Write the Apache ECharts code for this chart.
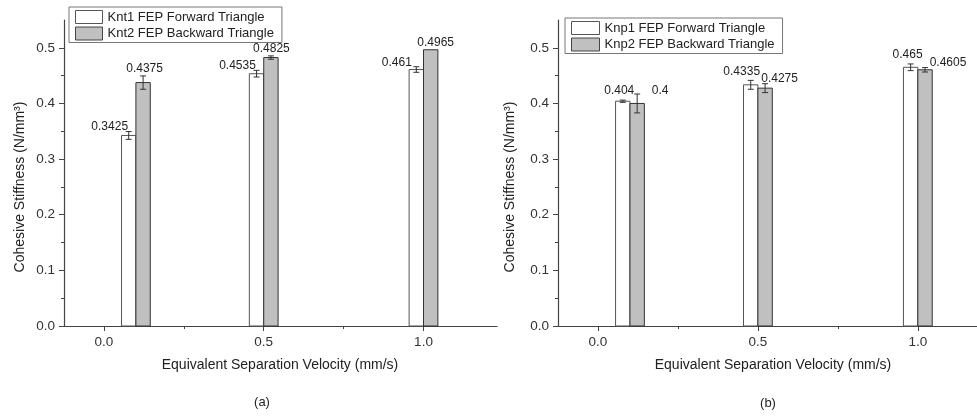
<!DOCTYPE html>
<html>
<head>
<meta charset="utf-8">
<script src="https://cdn.jsdelivr.net/npm/echarts@6/dist/echarts.min.js"></script>
<style>
  html, body { margin: 0; padding: 0; background: #fff; }
  #chart { width: 977px; height: 416px; }
</style>
</head>
<body>
<div id="chart"></div>
<script>
// x positions of the bar pairs (mm/s)
const velocities = [0.1, 0.5, 1.0];

// (a) normal cohesive stiffness
const kntForward = [0.3425, 0.4535, 0.461];
const kntForwardErr = [0.007, 0.006, 0.005];
const kntBackward = [0.4375, 0.4825, 0.4965];
const kntBackwardErr = [0.012, 0.003, 0];

// (b) shear cohesive stiffness
const knpForward = [0.404, 0.4335, 0.465];
const knpForwardErr = [0.002, 0.008, 0.006];
const knpBackward = [0.4, 0.4275, 0.4605];
const knpBackwardErr = [0.017, 0.008, 0.004];

const xTicks = [0, 0.5, 1.0];
const xMinorTicks = [0.25, 0.75];
const yTicks = [0, 0.1, 0.2, 0.3, 0.4, 0.5];
const yMinorTicks = [0.05, 0.15, 0.25, 0.35, 0.45];

// label nudges in px (dx, dy from top centre of bar)
const shiftKntF = [[-19, -9], [-19, -8], [-19.5, -7]];
const shiftKntB = [[1.5, -14], [0.5, -9], [5, -7]];
const shiftKnpF = [[-3.5, -11], [-9, -13.5], [-3, -12.6]];
const shiftKnpB = [[23, -13], [14.5, -9.5], [23, -7]];

const FONT = 'Liberation Sans, Arial, sans-serif';
const barW = 0.045;

const chart = echarts.init(document.getElementById('chart'));

function makeRender(side, shifts, fill, stroke) {
    return function (params, api) {
        const x = api.value(0), v = api.value(1), e = api.value(2);
        const x0 = side < 0 ? x - barW : x;
        const p0 = api.coord([x0, v]);
        const p1 = api.coord([x0 + barW, 0]);
        const cx = (p0[0] + p1[0]) / 2;
        const children = [{
            type: 'rect',
            shape: { x: p0[0], y: p0[1], width: p1[0] - p0[0], height: p1[1] - p0[1] },
            style: { fill: fill, stroke: stroke, lineWidth: 1 }
        }];
        if (e > 0) {
            const hi = api.coord([x, v + e])[1];
            const lo = api.coord([x, v - e])[1];
            const ls = { stroke: '#333', lineWidth: 1 };
            children.push({ type: 'line', shape: { x1: cx, y1: hi, x2: cx, y2: lo }, style: ls });
            children.push({ type: 'line', shape: { x1: cx - 3, y1: hi, x2: cx + 3, y2: hi }, style: ls });
            children.push({ type: 'line', shape: { x1: cx - 3, y1: lo, x2: cx + 3, y2: lo }, style: ls });
        }
        const s = shifts[params.dataIndex];
        children.push({
            type: 'text',
            x: cx + s[0],
            y: p0[1] + s[1],
            style: {
                text: String(v), fill: '#222', fontSize: 12, fontFamily: FONT,
                align: 'center', verticalAlign: 'middle'
            }
        });
        return { type: 'group', children: children };
    };
}

function toData(vals, errs) {
    return velocities.map((x, i) => [x, vals[i], errs[i]]);
}

const whiteStyle = { color: '#ffffff', borderColor: '#555', borderWidth: 1 };
const greyStyle = { color: '#c0c0c0', borderColor: '#444', borderWidth: 1 };
const tickLine = { color: '#444', width: 1 };

function xAxisPair(gridIndex, xMax) {
    return [{
        type: 'value', gridIndex: gridIndex, min: -0.125, max: xMax, position: 'bottom',
        axisLine: { show: true, onZero: false, lineStyle: { color: '#444', width: 1.2 } },
        axisTick: { show: true, customValues: xTicks, length: 5, lineStyle: tickLine },
        axisLabel: {
            customValues: xTicks, margin: 9, color: '#333', fontSize: 13.5, fontFamily: FONT,
            formatter: v => v.toFixed(1)
        },
        splitLine: { show: false }
    }, {
        type: 'value', gridIndex: gridIndex, min: -0.125, max: xMax, position: 'bottom',
        axisLine: { show: false, onZero: false },
        axisTick: { show: true, customValues: xMinorTicks, length: 3, lineStyle: tickLine },
        axisLabel: { show: false },
        splitLine: { show: false }
    }];
}
function yAxisPair(gridIndex) {
    return [{
        type: 'value', gridIndex: gridIndex, min: 0, max: 0.55, position: 'left',
        axisLine: { show: true, onZero: false, lineStyle: { color: '#444', width: 1.2 } },
        axisTick: { show: true, customValues: yTicks, length: 5, lineStyle: tickLine },
        axisLabel: {
            customValues: yTicks, margin: 9, color: '#333', fontSize: 13.5, fontFamily: FONT,
            formatter: v => v.toFixed(1)
        },
        splitLine: { show: false }
    }, {
        type: 'value', gridIndex: gridIndex, min: 0, max: 0.55, position: 'left',
        axisLine: { show: false, onZero: false },
        axisTick: { show: true, customValues: yMinorTicks, length: 3, lineStyle: tickLine },
        axisLabel: { show: false },
        splitLine: { show: false }
    }];
}
function legend(left, top, names, iconW) {
    return {
        orient: 'vertical', left: left, top: top,
        itemWidth: iconW, itemHeight: 13, itemGap: 2.5,
        padding: [3, 8, 2, 6],
        borderColor: '#777', borderWidth: 1, borderRadius: 0,
        icon: 'rect',
        textStyle: { fontSize: 13, color: '#222', fontFamily: FONT },
        data: [
            { name: names[0], itemStyle: whiteStyle },
            { name: names[1], itemStyle: greyStyle }
        ]
    };
}

const textStyle = { fill: '#222', fontFamily: FONT, align: 'center', verticalAlign: 'middle' };

const option = {
    animation: false,
    grid: [
        { left: 64, top: 20, width: 433, height: 306 },
        { left: 558, top: 20, width: 419, height: 306 }
    ],
    xAxis: xAxisPair(0, 1.23).concat(xAxisPair(1, 1.185)),
    yAxis: yAxisPair(0).concat(yAxisPair(1)),
    legend: [
        legend(69, 7, ['Knt1 FEP Forward Triangle', 'Knt2 FEP Backward Triangle'], 27),
        legend(565, 18, ['Knp1 FEP Forward Triangle', 'Knp2 FEP Backward Triangle'], 28)
    ],
    graphic: [
        { type: 'text', x: 280, y: 365, style: Object.assign({ text: 'Equivalent Separation Velocity (mm/s)', fontSize: 14 }, textStyle) },
        { type: 'text', x: 773, y: 365, style: Object.assign({ text: 'Equivalent Separation Velocity (mm/s)', fontSize: 14 }, textStyle) },
        { type: 'text', x: 20, y: 187, rotation: Math.PI / 2, style: Object.assign({ text: 'Cohesive Stiffness (N/mm³)', fontSize: 14 }, textStyle) },
        { type: 'text', x: 510, y: 187, rotation: Math.PI / 2, style: Object.assign({ text: 'Cohesive Stiffness (N/mm³)', fontSize: 14 }, textStyle) },
        { type: 'text', x: 262, y: 402, style: Object.assign({ text: '(a)', fontSize: 13 }, textStyle) },
        { type: 'text', x: 768, y: 403, style: Object.assign({ text: '(b)', fontSize: 13 }, textStyle) }
    ],
    series: [
        {
            name: 'Knt1 FEP Forward Triangle', type: 'custom', xAxisIndex: 0, yAxisIndex: 0,
            itemStyle: whiteStyle, encode: { x: 0, y: 1 },
            renderItem: makeRender(-1, shiftKntF, '#ffffff', '#555'),
            data: toData(kntForward, kntForwardErr)
        },
        {
            name: 'Knt2 FEP Backward Triangle', type: 'custom', xAxisIndex: 0, yAxisIndex: 0,
            itemStyle: greyStyle, encode: { x: 0, y: 1 },
            renderItem: makeRender(1, shiftKntB, '#c0c0c0', '#333'),
            data: toData(kntBackward, kntBackwardErr)
        },
        {
            name: 'Knp1 FEP Forward Triangle', type: 'custom', xAxisIndex: 2, yAxisIndex: 2,
            itemStyle: whiteStyle, encode: { x: 0, y: 1 },
            renderItem: makeRender(-1, shiftKnpF, '#ffffff', '#555'),
            data: toData(knpForward, knpForwardErr)
        },
        {
            name: 'Knp2 FEP Backward Triangle', type: 'custom', xAxisIndex: 2, yAxisIndex: 2,
            itemStyle: greyStyle, encode: { x: 0, y: 1 },
            renderItem: makeRender(1, shiftKnpB, '#c0c0c0', '#333'),
            data: toData(knpBackward, knpBackwardErr)
        }
    ]
};

chart.setOption(option);
</script>
</body>
</html>
